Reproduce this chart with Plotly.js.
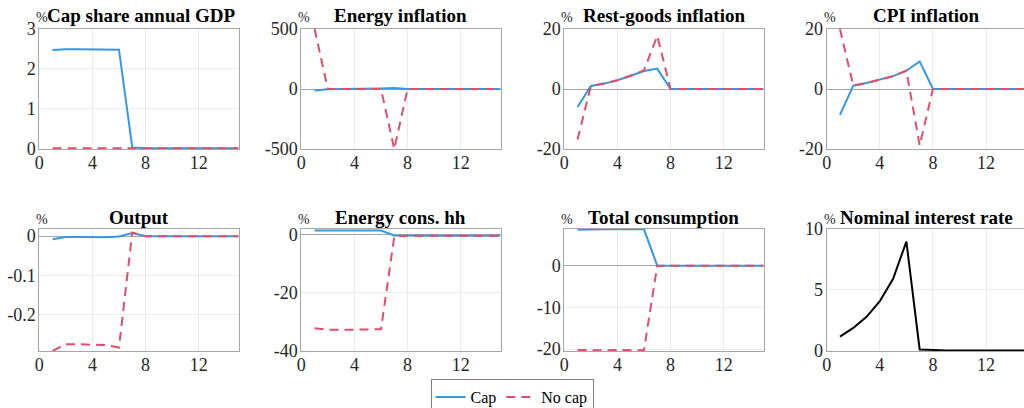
<!DOCTYPE html>
<html>
<head>
<meta charset="utf-8">
<script src="https://cdn.plot.ly/plotly-3.0.1.min.js"></script>
<style>html,body{margin:0;padding:0;background:#fff;overflow:hidden;}#chart{width:1024px;height:408px;}</style>
</head>
<body>
<div id="chart"></div>
<script>
// ---- data ----
const periods = [1,2,3,4,5,6,7,8,9,10,11,12,13,14,15];

const capShareCap   = [2.47,2.49,2.49,2.49,2.49,2.48,0.02,0,0,0,0,0,0,0,0];
const capShareNoCap = [0,0,0,0,0,0,0,0,0,0,0,0,0,0,0];

const energyInflCap   = [-12,-2,0,0,2,5,9,0,0,0,0,0,0,0,0];
const energyInflNoCap = [500,0,0,0,0,0,-500,0,0,0,0,0,0,0,0];

const restInflCap   = [-6,1,1.8,2.9,4.4,6,6.8,0,0,0,0,0,0,0,0];
const restInflNoCap = [-16.8,1,1.8,2.9,4.4,6.2,17.7,0,0,0,0,0,0,0,0];

const cpiInflCap   = [-8.6,1.1,2,3.1,4.3,6.1,9.2,0,0,0,0,0,0,0,0];
const cpiInflNoCap = [20,1.1,2,3.1,4.3,6.1,-18.8,0,0,0,0,0,0,0,0];

const outputCap   = [-0.008,-0.002,-0.002,-0.003,-0.003,-0.001,0.008,0,0,0,0,0,0,0,0];
const outputNoCap = [-0.292,-0.275,-0.275,-0.276,-0.277,-0.283,0.009,0,0,0,0,0,0,0,0];

const energyConsCap   = [1.5,1.5,1.5,1.5,1.5,1.5,-0.2,-0.3,-0.3,-0.3,-0.3,-0.3,-0.3,-0.3,-0.3];
const energyConsNoCap = [-32.2,-32.7,-32.7,-32.7,-32.6,-32.5,-0.6,-0.3,-0.3,-0.3,-0.3,-0.3,-0.3,-0.3,-0.3];

const totalConsCap   = [8.6,8.7,8.7,8.7,8.7,8.7,0,0,0,0,0,0,0,0,0];
const totalConsNoCap = [-20.2,-20.3,-20.3,-20.2,-20.3,-20.2,0,0,0,0,0,0,0,0,0];

const interestRate = [1.13,1.84,2.75,4.04,5.88,8.93,0.08,0.02,0,0,0,0,0,0,0];

const panelTitles = ["Cap share annual GDP","Energy inflation","Rest-goods inflation","CPI inflation",
                     "Output","Energy cons. hh","Total consumption","Nominal interest rate"];
const seriesNames = ["Cap","No cap"];
const unitLabel = "%";

const xTickVals = [0,4,8,12];
const xTickText = ["0","4","8","12"];
const yTickVals = [[0,1,2,3],[-500,0,500],[-20,0,20],[-20,0,20],[-0.2,-0.1,0],[-40,-20,0],[-20,-10,0],[0,5,10]];
const yTickText = [["0","1","2","3"],["-500","0","500"],["-20","0","20"],["-20","0","20"],
                   ["-0.2","-0.1","0"],["-40","-20","0"],["-20","-10","0"],["0","5","10"]];

// ---- layout geometry (pixels) ----
const W = 1024, H = 408;
const panelLeft = [39.3, 301.3, 564.3, 826.7];
const pxPerUnit = 13.28;
const rowTop = [29, 228.5];
const rowBottom = [149, 351];
const yRanges = [[-0.02,3],[-500,500],[-20,20],[-20,20],[-0.292,0.0195],[-40,2.2],[-20.45,8.9],[-0.05,10]];

const BLUE = "#3399e6", RED = "#e34d69";
const FONT = "Liberation Serif";

const caps = [capShareCap, energyInflCap, restInflCap, cpiInflCap, outputCap, energyConsCap, totalConsCap, null];
const nocaps = [capShareNoCap, energyInflNoCap, restInflNoCap, cpiInflNoCap, outputNoCap, energyConsNoCap, totalConsNoCap, null];

const traces = [];
const layout = {
  width: W, height: H,
  margin: {l:0, r:0, t:0, b:0, autoexpand: false},
  paper_bgcolor: "#fff", plot_bgcolor: "#fff",
  font: {family: FONT, size: 17, color: "#262626"},
  showlegend: true,
  legend: {
    orientation: "h", x: 0.5, xanchor: "center", y: (H-379)/H, yanchor: "top",
    bordercolor: "#808080", borderwidth: 1, bgcolor: "#fff",
    font: {family: FONT, size: 16, color: "#000"},
    itemwidth: 30, tracegroupgap: 0
  },
  annotations: []
};

for (let i = 0; i < 8; i++) {
  const row = i < 4 ? 0 : 1, col = i % 4;
  const n = i + 1;
  const xa = "x" + (n === 1 ? "" : n), ya = "y" + (n === 1 ? "" : n);
  const left = panelLeft[col];
  let right = left + 15 * pxPerUnit;
  let xmax = 15;
  if (right > W) { xmax = (W - left) / pxPerUnit; right = W; }
  const xd = [left / W, right / W];
  const yd = [(H - rowBottom[row]) / H, (H - rowTop[row]) / H];
  const axCommon = {
    showline: true, mirror: true, linecolor: "#a6a6a6", linewidth: 1,
    showgrid: true, gridcolor: "#ebebeb", gridwidth: 1,
    ticks: "", automargin: false, fixedrange: true,
    tickfont: {family: FONT, size: 18, color: "#262626"}
  };
  layout["xaxis" + (n === 1 ? "" : n)] = Object.assign({}, axCommon, {
    domain: xd, anchor: ya, range: [0, xmax],
    tickmode: "array", tickvals: xTickVals, ticktext: xTickText,
    zeroline: false, ticklabelstandoff: -3
  });
  layout["yaxis" + (n === 1 ? "" : n)] = Object.assign({}, axCommon, {
    domain: yd, anchor: xa, range: yRanges[i],
    tickmode: "array", tickvals: yTickVals[i], ticktext: yTickText[i],
    zeroline: true, zerolinecolor: "#a6a6a6", zerolinewidth: 1, ticklabelstandoff: -1
  });
  if (caps[i]) {
    traces.push({x: periods, y: caps[i], xaxis: xa, yaxis: ya, type: "scatter", mode: "lines",
      name: seriesNames[0], legendgroup: "cap", showlegend: i === 0,
      line: {color: BLUE, width: 2}});
    traces.push({x: periods, y: nocaps[i], xaxis: xa, yaxis: ya, type: "scatter", mode: "lines",
      name: seriesNames[1], legendgroup: "nocap", showlegend: i === 0,
      line: {color: RED, width: 2, dash: "9px,6px"}});
  } else {
    traces.push({x: periods, y: interestRate, xaxis: xa, yaxis: ya, type: "scatter", mode: "lines",
      name: "Nominal interest rate", showlegend: false, line: {color: "#000", width: 2}});
  }
  // panel title (centred over the full 15-period axis width)
  layout.annotations.push({
    xref: "paper", yref: "paper", x: (left + 7.5 * pxPerUnit + (i === 0 ? 3 : 0)) / W,
    y: (H - (row === 0 ? 16 : 217)) / H, xanchor: "center", yanchor: "middle",
    text: "<b>" + panelTitles[i] + "</b>", showarrow: false,
    font: {family: FONT, size: 19, color: "#000"}
  });
  // unit label
  layout.annotations.push({
    xref: "paper", yref: "paper", x: (left + 3) / W, y: (H - (row === 0 ? 18 : 219)) / H,
    xanchor: "center", yanchor: "middle", text: unitLabel, showarrow: false,
    font: {family: FONT, size: 14, color: "#262626"}
  });
}

Plotly.newPlot("chart", traces, layout, {staticPlot: true, displayModeBar: false});
</script>
</body>
</html>
